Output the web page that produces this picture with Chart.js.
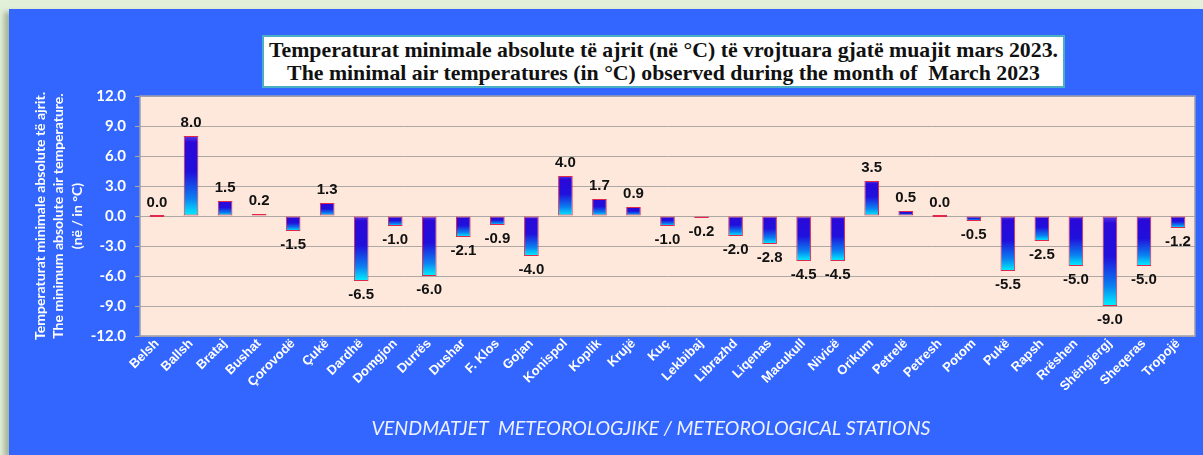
<!DOCTYPE html>
<html>
<head>
<meta charset="utf-8">
<script src="https://cdn.jsdelivr.net/npm/chart.js@4.4.0/dist/chart.umd.min.js"></script>
<style>
  body { margin: 0; width: 1203px; height: 455px; overflow: hidden; position: relative; background: #e2efd9; }
  #panel { position: absolute; left: 9px; top: 9px; width: 1194px; height: 446px; background: #3366ff;
           box-shadow: -5px 3px 5px rgba(60, 75, 40, 0.35); }
  #title { position: absolute; left: 262px; top: 35px; width: 803px; height: 53px; box-sizing: border-box;
           border: 2px solid #4aaec4; background: #fff; text-align: center; color: #111;
           font: bold 21.8px "Liberation Serif", "Times New Roman", serif; line-height: 23px; padding-top: 2px; }
  canvas { position: absolute; left: 0; top: 0; }
</style>
</head>
<body>
<div id="panel"></div>
<div id="title">Temperaturat minimale absolute të ajrit (në °C) të vrojtuara gjatë muajit mars 2023.<br>The minimal air temperatures (in °C) observed during the month of&nbsp; March 2023</div>
<canvas id="chart" width="1203" height="455"></canvas>
<script>
const stations = ['Belsh', 'Ballsh', 'Brataj', 'Bushat', 'Çorovodë', 'Çukë', 'Dardhë', 'Domgjon', 'Durrës', 'Dushar',
  'F. Klos', 'Gojan', 'Konispol', 'Koplik', 'Krujë', 'Kuç', 'Lekbibaj', 'Librazhd', 'Liqenas', 'Macukull',
  'Nivicë', 'Orikum', 'Petrelë', 'Petresh', 'Potom', 'Pukë', 'Rapsh', 'Rrëshen', 'Shëngjergj', 'Sheqeras', 'Tropojë'];
const minTemps = [0.0, 8.0, 1.5, 0.2, -1.5, 1.3, -6.5, -1.0, -6.0, -2.1,
  -0.9, -4.0, 4.0, 1.7, 0.9, -1.0, -0.2, -2.0, -2.8, -4.5,
  -4.5, 3.5, 0.5, 0.0, -0.5, -5.5, -2.5, -5.0, -9.0, -5.0, -1.2];
const yTitle = ['Temperaturat minimale absolute të ajrit.', 'The minimum absolute air temperature.', '(në / in °C)'];
const xTitle = 'VENDMATJET  METEOROLOGJIKE / METEOROLOGICAL STATIONS';

// bar fill: dark blue at top fading to cyan at the bottom of each bar
function barFill(c) {
  const chart = c.chart;
  const y = chart.scales.y;
  if (!chart.chartArea || !y || c.type !== 'data') return '#2a10e0';
  const p0 = y.getPixelForValue(0);
  const p1 = y.getPixelForValue(c.raw);
  const top = Math.min(p0, p1), bot = Math.max(p0, p1);
  if (bot - top < 1) return '#e0284c';
  const g = chart.ctx.createLinearGradient(0, top, 0, bot);
  g.addColorStop(0, '#5a3ae8');
  g.addColorStop(0.08, '#2a08d8');
  g.addColorStop(0.45, '#2010dc');
  g.addColorStop(0.78, '#0a80f0');
  g.addColorStop(1, '#00f4ff');
  return g;
}

const plotBg = {
  id: 'plotBg',
  beforeDraw(chart) {
    const {ctx, chartArea: a} = chart;
    ctx.save();
    ctx.fillStyle = '#fde8db';
    ctx.fillRect(a.left, a.top, a.right - a.left, a.bottom - a.top);
    ctx.restore();
  },
  afterDraw(chart) {
    const {ctx, chartArea: a} = chart;
    ctx.save();
    ctx.strokeStyle = '#9a9cb0';
    ctx.lineWidth = 1.5;
    ctx.strokeRect(a.left, a.top, a.right - a.left, a.bottom - a.top);
    ctx.fillStyle = '#eef2ff';
    ctx.font = 'italic 19.6px Lato, "Open Sans", sans-serif';
    ctx.textAlign = 'center';
    ctx.textBaseline = 'middle';
    ctx.fillText(xTitle, 651, 429);
    ctx.restore();
  }
};

const valueLabels = {
  id: 'valueLabels',
  afterDatasetsDraw(chart) {
    const {ctx} = chart;
    const y = chart.scales.y;
    const meta = chart.getDatasetMeta(0);
    ctx.save();
    ctx.fillStyle = '#111';
    ctx.font = 'bold 15px "Liberation Sans Narrow", "Liberation Sans", Arial, sans-serif';
    ctx.textAlign = 'center';
    meta.data.forEach((el, i) => {
      const v = minTemps[i];
      const py = y.getPixelForValue(v);
      if (v >= 0) {
        ctx.textBaseline = 'bottom';
        ctx.fillText(v.toFixed(1), el.x, py - 6);
      } else {
        ctx.textBaseline = 'top';
        ctx.fillText(v.toFixed(1), el.x, py + 6);
      }
    });
    ctx.restore();
  }
};

new Chart(document.getElementById('chart'), {
  type: 'bar',
  data: {
    labels: stations,
    datasets: [{
      data: minTemps,
      backgroundColor: barFill,
      borderColor: '#e0284c',
      borderWidth: 1,
      borderSkipped: false,
      minBarLength: 2,
      barPercentage: 0.43,
      categoryPercentage: 1
    }]
  },
  options: {
    responsive: false,
    devicePixelRatio: 1,
    animation: false,
    layout: { padding: { left: 0, top: 96, right: 8, bottom: 0 } },
    plugins: { legend: { display: false }, tooltip: { enabled: false } },
    scales: {
      y: {
        min: -12,
        max: 12,
        afterFit: (s) => { s.width = 140; },
        ticks: {
          stepSize: 3,
          padding: 9,
          color: '#fff',
          font: { family: 'Lato', weight: 'bold', size: 15 },
          callback: (v) => Number(v).toFixed(1)
        },
        grid: { color: '#ada8a4', tickLength: 5, lineWidth: 1 },
        border: { display: false },
        title: {
          display: true,
          text: yTitle,
          color: '#fff',
          font: { family: 'Lato', weight: 'bold', size: 14, lineHeight: 1.32 },
          padding: { top: 31, bottom: 0 }
        }
      },
      x: {
        afterFit: (s) => { s.height = 119; },
        grid: { display: false },
        border: { display: false },
        ticks: {
          autoSkip: false,
          minRotation: 45,
          maxRotation: 45,
          padding: -8,
          color: '#fff',
          font: { family: '"Liberation Sans", Arial, sans-serif', weight: 'bold', size: 13 }
        }
      }
    }
  },
  plugins: [plotBg, valueLabels]
});
</script>
</body>
</html>
